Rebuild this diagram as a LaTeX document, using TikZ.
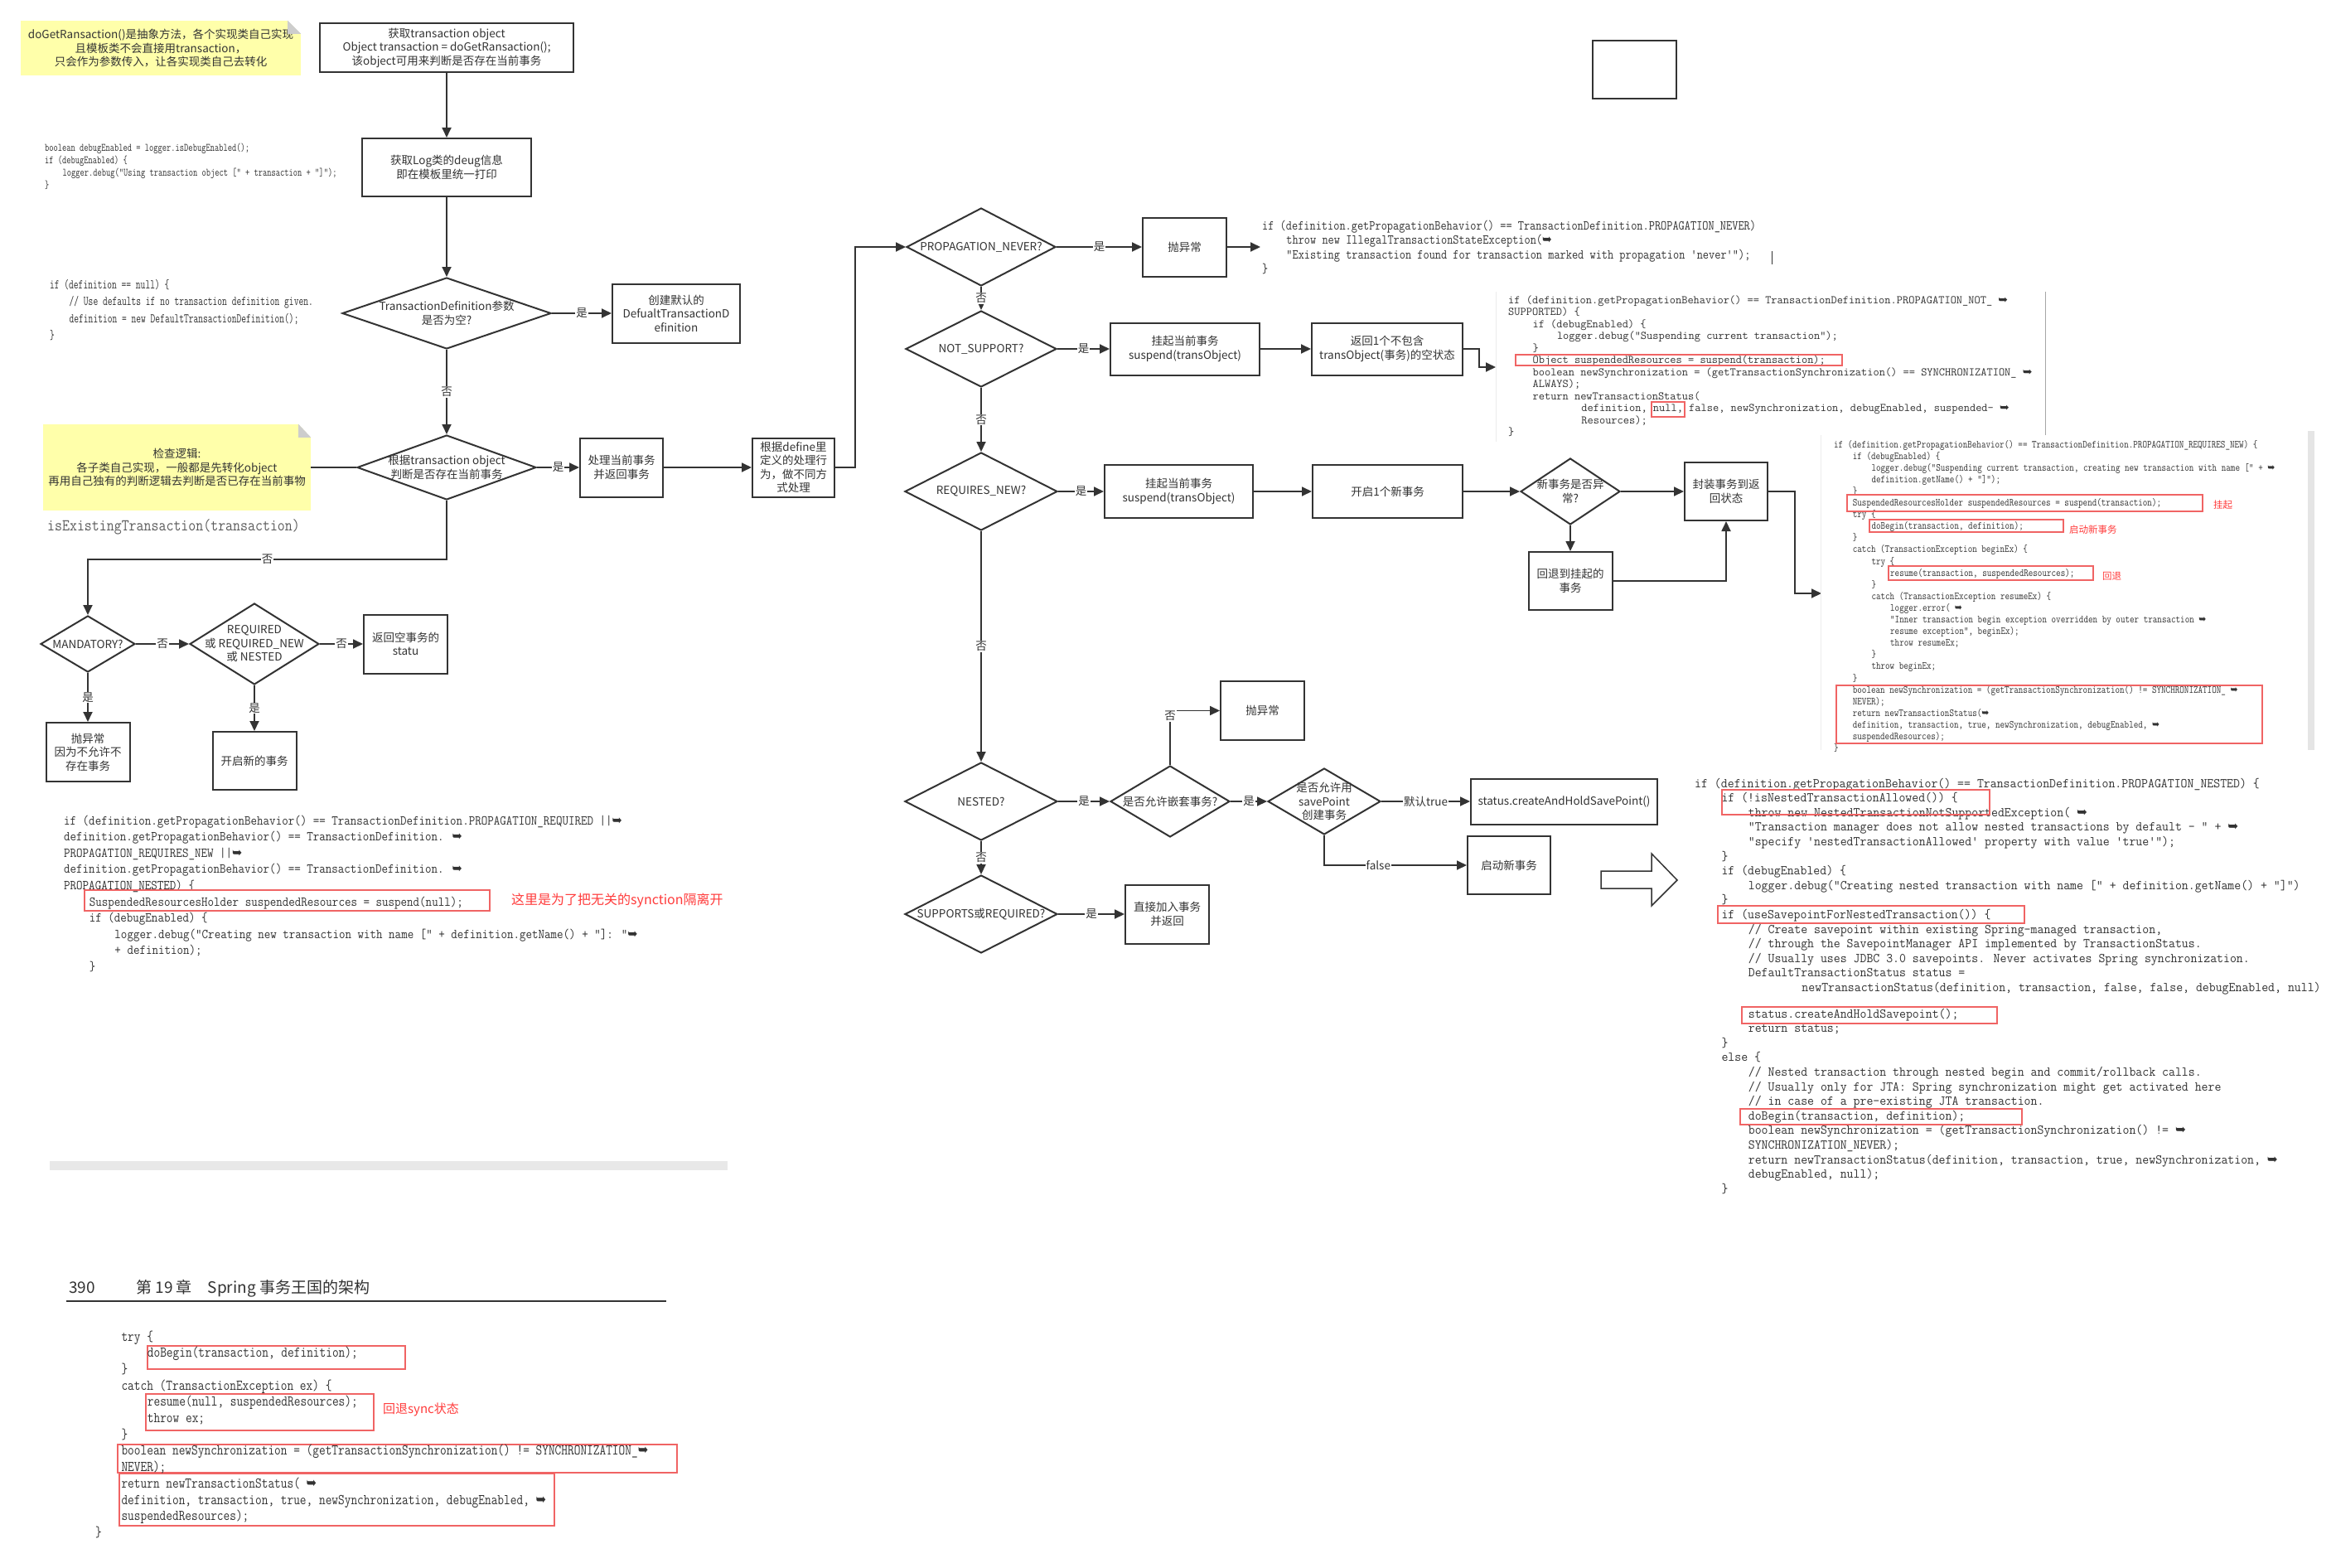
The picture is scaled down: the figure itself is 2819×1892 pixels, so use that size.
\documentclass[tikz,border=0pt]{standalone}
\usepackage{fontspec}
\setmainfont{Noto Sans CJK SC}
\newfontfamily\symfont{DejaVu Sans}
\usepackage{xcolor}
\definecolor{ink}{RGB}{51,51,51}
\definecolor{codeink}{RGB}{50,50,50}
\definecolor{notey}{RGB}{255,255,170}
\definecolor{notefold}{RGB}{205,205,205}
\definecolor{codered}{RGB}{240,100,100}
\definecolor{markred}{RGB}{255,60,60}
\usetikzlibrary{arrows.meta, positioning, shapes.geometric}

\newcommand\flowfont{\fontsize{13.5}{16.5}\selectfont}
\newcommand\ind[1]{\hspace*{#1\dimexpr.525em\relax}}
\newcommand\nxt{{\symfont ➥}}

\tikzset{
  box/.style={draw=ink, line width=2pt, fill=white, align=center, font=\flowfont, text=ink, inner sep=2pt},
  dia/.style={diamond, draw=ink, line width=2pt, fill=white, inner sep=0pt},
  dtxt/.style={align=center, font=\flowfont, text=ink},
  conn/.style={draw=ink, line width=1.8pt},
  arr/.style={conn, -{Triangle[length=12pt,width=11pt]}},
  lbl/.style={fill=white, inner sep=1pt, font=\flowfont, text=ink},
  note/.style={fill=notey, align=center, font=\flowfont, text=ink, inner sep=0pt},
  code/.style={anchor=base west, align=left, inner sep=0pt, text=codeink},
  redbox/.style={draw=codered, line width=1.2pt},
  redtxt/.style={anchor=west, inner sep=0pt, text=markred}
}

\begin{document}
\begin{tikzpicture}[x=1pt, y=-1pt]
\fill[white] (0,0) rectangle (2819,1892);
\useasboundingbox (0,0) rectangle (2819,1892);

% === Notes ===
\node[note, minimum width=338pt, minimum height=66pt] (abstractnote) at (194,58)
     {doGetRansaction()是抽象方法，各个实现类自己实现\\且模板类不会直接用transaction，\\只会作为参数传入，让各实现类自己去转化};
\fill[white] ([xshift=-16pt]abstractnote.north east) -- (abstractnote.north east) -- ([yshift=-16pt]abstractnote.north east) -- cycle;
\fill[notefold] ([xshift=-16pt]abstractnote.north east) -- ([xshift=-16pt,yshift=-16pt]abstractnote.north east) -- ([yshift=-16pt]abstractnote.north east) -- cycle;

\node[note, minimum width=323pt, minimum height=104pt] (checknote) at (213.5,564)
     {检查逻辑:\\各子类自己实现，一般都是先转化object\\再用自己独有的判断逻辑去判断是否已存在当前事物};
\fill[white] ([xshift=-15pt]checknote.north east) -- (checknote.north east) -- ([yshift=-16pt]checknote.north east) -- cycle;
\fill[notefold] ([xshift=-15pt]checknote.north east) -- ([xshift=-15pt,yshift=-16pt]checknote.north east) -- ([yshift=-16pt]checknote.north east) -- cycle;

% === Left column: getTransaction ===
\node[box, minimum width=306pt, minimum height=59pt] (getobj) at (539,57.5)
     {获取transaction object\\Object transaction = doGetRansaction();\\该object可用来判断是否存在当前事务};
\node[box, minimum width=204pt, minimum height=70pt] (logbox) at (539,202)
     {获取Log类的deug信息\\即在模板里统一打印};
\node[dia, minimum width=252pt, minimum height=86pt,
      label={[dtxt]center:{TransactionDefinition参数\\是否为空?}}] (nullq) at (539,378) {};
\node[box, minimum width=154pt, minimum height=71pt] (defbox) at (816,378)
     {创建默认的\\DefualtTransactionD\\efinition};
\node[dia, minimum width=216pt, minimum height=78pt,
      label={[dtxt]center:{根据transaction object\\判断是否存在当前事务}}] (existq) at (539,564) {};
\node[box, minimum width=100pt, minimum height=71pt] (curbox) at (750,564)
     {处理当前事务\\并返回事务};
\node[box, minimum width=99pt, minimum height=71pt] (definebox) at (957.5,564)
     {根据define里\\定义的处理行\\为，做不同方\\式处理};

\node[dia, minimum width=114pt, minimum height=68pt,
      label={[dtxt]center:{MANDATORY?}}] (mandq) at (106,777) {};
\node[dia, minimum width=156pt, minimum height=98pt,
      label={[dtxt]center:{REQUIRED\\或 REQUIRED\_NEW\\或 NESTED}}] (reqq) at (307,777) {};
\node[box, minimum width=101pt, minimum height=71pt] (statubox) at (489.5,777)
     {返回空事务的\\statu};
\node[box, minimum width=101pt, minimum height=71pt] (throwone) at (106,907.5)
     {抛异常\\因为不允许不\\存在事务};
\node[box, minimum width=101pt, minimum height=70pt] (newtxbox) at (307,918)
     {开启新的事务};

% Connectors, left column
\draw[arr] (getobj) -- (logbox);
\draw[arr] (logbox) -- (nullq);
\draw[arr] (nullq) -- node[lbl] {是} (defbox);
\draw[arr] (nullq) -- node[lbl] {否} (existq);
\draw[conn] (checknote) -- (existq);
\draw[arr] (existq) -- node[lbl] {是} (curbox);
\draw[arr] (curbox) -- (definebox);
\draw[arr] (existq.south) -- ++(0,71) -| node[lbl, pos=0.25] {否} (mandq.north);
\draw[arr] (mandq) -- node[lbl] {否} (reqq);
\draw[arr] (reqq) -- node[lbl] {否} (statubox);
\draw[arr] (mandq) -- node[lbl] {是} (throwone);
\draw[arr] (reqq) -- node[lbl] {是} (newtxbox);

% === Middle column: propagation behaviours ===
\node[box, minimum width=101pt, minimum height=70pt] (blankbox) at (1972.5,84) {};

\node[dia, minimum width=180pt, minimum height=94pt,
      label={[dtxt]center:{PROPAGATION\_NEVER?}}] (neverq) at (1184,298) {};
\node[box, minimum width=101pt, minimum height=71pt] (throwtwo) at (1429.5,298) {抛异常};
\coordinate (neverend) at (1521,298);

\node[dia, minimum width=182pt, minimum height=92pt,
      label={[dtxt]center:{NOT\_SUPPORT?}}] (notsupq) at (1184,421) {};
\node[box, minimum width=180pt, minimum height=63pt] (suspone) at (1430,421)
     {挂起当前事务\\suspend(transObject)};
\node[box, minimum width=182pt, minimum height=63pt] (emptybox) at (1674,421)
     {返回1个不包含\\transObject(事务)的空状态};
\coordinate (notsupend) at (1805,443);

\node[dia, minimum width=184pt, minimum height=94pt,
      label={[dtxt]center:{REQUIRES\_NEW?}}] (reqnewq) at (1184,593) {};
\node[box, minimum width=179pt, minimum height=64pt] (susptwo) at (1422.5,593)
     {挂起当前事务\\suspend(transObject)};
\node[box, minimum width=181pt, minimum height=64pt] (openbox) at (1674.5,593) {开启1个新事务};
\node[dia, minimum width=120pt, minimum height=80pt,
      label={[dtxt]center:{新事务是否异\\常?}}] (errq) at (1895,593) {};
\node[box, minimum width=100pt, minimum height=70pt] (wrapbox) at (2083,593)
     {封装事务到返\\回状态};
\node[box, minimum width=101pt, minimum height=70pt] (backbox) at (1895,701)
     {回退到挂起的\\事务};
\coordinate (reqnewend) at (2198,716);

\node[dia, minimum width=184pt, minimum height=94pt,
      label={[dtxt]center:{NESTED?}}] (nestedq) at (1184,967) {};
\node[dia, minimum width=144pt, minimum height=86pt,
      label={[dtxt]center:{是否允许嵌套事务?}}] (allowq) at (1412,967) {};
\node[box, minimum width=101pt, minimum height=71pt] (throwthree) at (1523.5,857.5) {抛异常};
\node[dia, minimum width=136pt, minimum height=80pt,
      label={[dtxt]center:{是否允许用\\savePoint\\创建事务}}] (saveq) at (1598,967) {};
\node[box, minimum width=225pt, minimum height=55pt] (holdbox) at (1887.5,967)
     {status.createAndHoldSavePoint()};
\node[box, minimum width=100pt, minimum height=70pt] (startbox) at (1821,1044) {启动新事务};

\node[dia, minimum width=184pt, minimum height=94pt,
      label={[dtxt]center:{SUPPORTS或REQUIRED?}}] (supq) at (1184,1103) {};
\node[box, minimum width=101pt, minimum height=71pt] (joinbox) at (1408.5,1103)
     {直接加入事务\\并返回};

% Connectors, middle column
\draw[arr] (definebox.east) -- ++(24,0) |- (neverq.west);
\draw[arr] (neverq) -- node[lbl] {是} (throwtwo);
\draw[arr] (throwtwo) -- (neverend);
\draw[arr] (neverq) -- node[lbl] {否} (notsupq);
\draw[arr] (notsupq) -- node[lbl] {是} (suspone);
\draw[arr] (suspone) -- (emptybox);
\draw[arr] (emptybox.east) -- ++(19,0) |- (notsupend);
\draw[arr] (notsupq) -- node[lbl] {否} (reqnewq);
\draw[arr] (reqnewq) -- node[lbl] {是} (susptwo);
\draw[arr] (susptwo) -- (openbox);
\draw[arr] (openbox) -- (errq);
\draw[arr] (errq) -- (wrapbox);
\draw[arr] (errq) -- (backbox);
\draw[arr] (backbox.east) -| (wrapbox.south);
\draw[arr] (wrapbox.east) -- ++(32,0) |- (reqnewend);
\draw[arr] (reqnewq) -- node[lbl] {否} (nestedq);
\draw[arr] (nestedq) -- node[lbl] {是} (allowq);
\draw[arr] (allowq.north) |- node[lbl, pos=0.45] {否} (throwthree.west);
\draw[arr] (allowq) -- node[lbl] {是} (saveq);
\draw[arr] (saveq) -- node[lbl] {默认true} (holdbox);
\draw[arr] (saveq.south) |- node[lbl, pos=0.69] {false} (startbox.west);
\draw[arr] (nestedq) -- node[lbl] {否} (supq);
\draw[arr] (supq) -- node[lbl] {是} (joinbox);

% Hollow arrow towards the nested code
\draw[ink, line width=1.5pt, fill=white] (1932,1051) -- (1993,1051) -- (1993,1030) -- (2024,1062)
     -- (1993,1093) -- (1993,1072) -- (1932,1072) -- cycle;

% === Code excerpts (placed by the baseline of their last line) ===
\node[code, xscale=0.75, font=\fontsize{13.6}{14.7}\selectfont\ttfamily] (debugcode) at (54,227) {%
boolean debugEnabled = logger.isDebugEnabled();\\
if (debugEnabled) \{\\
\ind{4}logger.debug("Using transaction object [" + transaction + "]");\\
\}};

\node[code, xscale=0.70, font=\fontsize{16}{20.5}\selectfont\ttfamily] (nullcode) at (60,409.5) {%
if (definition == null) \{\\
\ind{4}// Use defaults if no transaction definition given.\\
\ind{4}definition = new DefaultTransactionDefinition();\\
\}};

\node[code, xscale=0.87, font=\fontsize{20}{22}\selectfont\ttfamily, text=ink!80] (existcode) at (57,640)
     {isExistingTransaction(transaction)};

\node[code, xscale=0.89, font=\fontsize{16.4}{19.6}\selectfont\ttfamily] (reqcode) at (77,1171.4) {%
if (definition.getPropagationBehavior() == TransactionDefinition.PROPAGATION\_REQUIRED ||\nxt\\
definition.getPropagationBehavior() == TransactionDefinition. \nxt\\
PROPAGATION\_REQUIRES\_NEW ||\nxt\\
definition.getPropagationBehavior() == TransactionDefinition. \nxt\\
PROPAGATION\_NESTED) \{\\
\ind{4}SuspendedResourcesHolder suspendedResources = suspend(null);\\
\ind{4}if (debugEnabled) \{\\
\ind{8}logger.debug("Creating new transaction with name [" + definition.getName() + "]: "\nxt\\
\ind{8}+ definition);\\
\ind{4}\}};
\node[redtxt, font=\fontsize{16}{18}\selectfont] (isolatenote) at (617,1087) {这里是为了把无关的synction隔离开};

\node[code, xscale=0.85, font=\fontsize{16.4}{17.5}\selectfont\ttfamily] (nevercode) at (1523,329.5) {%
if (definition.getPropagationBehavior() == TransactionDefinition.PROPAGATION\_NEVER)\\
\ind{4}throw new IllegalTransactionStateException(\nxt\\
\ind{4}"Existing transaction found for transaction marked with propagation 'never'");\\
\}};
\draw[codeink, line width=1pt] (2138,303) -- (2138,319);

\node[code, font=\fontsize{14}{14.5}\selectfont\ttfamily] (notsupcode) at (1820,525.5) {%
if (definition.getPropagationBehavior() == TransactionDefinition.PROPAGATION\_NOT\_ \nxt\\
SUPPORTED) \{\\
\ind{4}if (debugEnabled) \{\\
\ind{8}logger.debug("Suspending current transaction");\\
\ind{4}\}\\
\ind{4}Object suspendedResources = suspend(transaction);\\
\ind{4}boolean newSynchronization = (getTransactionSynchronization() == SYNCHRONIZATION\_ \nxt\\
\ind{4}ALWAYS);\\
\ind{4}return newTransactionStatus(\\
\ind{12}definition, null, false, newSynchronization, debugEnabled, suspended- \nxt\\
\ind{12}Resources);\\
\}};

\node[code, xscale=0.83, font=\fontsize{13}{14.1}\selectfont\ttfamily] (reqnewcode) at (2213,906.6) {%
if (definition.getPropagationBehavior() == TransactionDefinition.PROPAGATION\_REQUIRES\_NEW) \{\\
\ind{4}if (debugEnabled) \{\\
\ind{8}logger.debug("Suspending current transaction, creating new transaction with name [" + \nxt\\
\ind{8}definition.getName() + "]");\\
\ind{4}\}\\
\ind{4}SuspendedResourcesHolder suspendedResources = suspend(transaction);\\
\ind{4}try \{\\
\ind{8}doBegin(transaction, definition);\\
\ind{4}\}\\
\ind{4}catch (TransactionException beginEx) \{\\
\ind{8}try \{\\
\ind{12}resume(transaction, suspendedResources);\\
\ind{8}\}\\
\ind{8}catch (TransactionException resumeEx) \{\\
\ind{12}logger.error( \nxt\\
\ind{12}"Inner transaction begin exception overridden by outer transaction \nxt\\
\ind{12}resume exception", beginEx);\\
\ind{12}throw resumeEx;\\
\ind{8}\}\\
\ind{8}throw beginEx;\\
\ind{4}\}\\
\ind{4}boolean newSynchronization = (getTransactionSynchronization() != SYNCHRONIZATION\_ \nxt\\
\ind{4}NEVER);\\
\ind{4}return newTransactionStatus(\nxt\\
\ind{4}definition, transaction, true, newSynchronization, debugEnabled, \nxt\\
\ind{4}suspendedResources);\\
\}};
\node[redtxt, font=\fontsize{11.5}{13}\selectfont] (suspendmark) at (2671,609) {挂起};
\node[redtxt, font=\fontsize{11.5}{13}\selectfont] (beginmark) at (2497,639) {启动新事务};
\node[redtxt, font=\fontsize{11.5}{13}\selectfont] (resumemark) at (2537,695) {回退};

\node[code, xscale=0.95, font=\fontsize{16.2}{17.6}\selectfont\ttfamily] (nestedcode) at (2045,1439.2) {%
if (definition.getPropagationBehavior() == TransactionDefinition.PROPAGATION\_NESTED) \{\\
\ind{4}if (!isNestedTransactionAllowed()) \{\\
\ind{8}throw new NestedTransactionNotSupportedException( \nxt\\
\ind{8}"Transaction manager does not allow nested transactions by default - " + \nxt\\
\ind{8}"specify 'nestedTransactionAllowed' property with value 'true'");\\
\ind{4}\}\\
\ind{4}if (debugEnabled) \{\\
\ind{8}logger.debug("Creating nested transaction with name [" + definition.getName() + "]")\\
\ind{4}\}\\
\ind{4}if (useSavepointForNestedTransaction()) \{\\
\ind{8}// Create savepoint within existing Spring-managed transaction,\\
\ind{8}// through the SavepointManager API implemented by TransactionStatus.\\
\ind{8}// Usually uses JDBC 3.0 savepoints. Never activates Spring synchronization.\\
\ind{8}DefaultTransactionStatus status =\\
\ind{16}newTransactionStatus(definition, transaction, false, false, debugEnabled, null)\\[14pt]
\ind{8}status.createAndHoldSavepoint();\\
\ind{8}return status;\\
\ind{4}\}\\
\ind{4}else \{\\
\ind{8}// Nested transaction through nested begin and commit/rollback calls.\\
\ind{8}// Usually only for JTA: Spring synchronization might get activated here\\
\ind{8}// in case of a pre-existing JTA transaction.\\
\ind{8}doBegin(transaction, definition);\\
\ind{8}boolean newSynchronization = (getTransactionSynchronization() != \nxt\\
\ind{8}SYNCHRONIZATION\_NEVER);\\
\ind{8}return newTransactionStatus(definition, transaction, true, newSynchronization, \nxt\\
\ind{8}debugEnabled, null);\\
\ind{4}\}};

% Red highlights in the code
\foreach \xa/\ya/\xb/\yb in {102/1074/591/1099, 1829/428/2223/441, 1993/485/2033/503,
    2229/597/2658/617, 2256/627/2490/642, 2279/683/2526/700, 2216/827/2730/897,
    2078/953/2401/983, 2073/1093/2443/1114, 2102/1215/2410/1235, 2100/1338/2440/1357,
    178/1624/489/1652, 176/1682/451/1726, 142/1743/817/1777, 144/1778/669/1841}
  \draw[redbox] (\xa,\ya) rectangle (\xb,\yb);

% Scan edges
\draw[gray!15, line width=1pt] (1805,352) -- (1805,533);
\draw[gray!15, line width=1pt] (2197,525) -- (2197,905);
\draw[gray!70, line width=1pt] (2468,352) -- (2468,525);
\fill[gray!20] (2785,520) rectangle (2793,905);

% === Book page excerpt ===
\fill[gray!18] (60,1401) rectangle (878,1412);
\node[anchor=west, inner sep=0pt, font=\fontsize{19}{21}\selectfont, text=codeink] (pagehead) at (83,1555)
     {390\hspace{2.6em}第 19 章\hspace{1em}Spring 事务王国的架构};
\draw[ink, line width=1.8pt] (80,1570) -- (804,1570);

\node[code, xscale=0.83, font=\fontsize{18}{19.7}\selectfont\ttfamily] (bookcode) at (115,1854.4) {%
\ind{4}try \{\\
\ind{8}doBegin(transaction, definition);\\
\ind{4}\}\\
\ind{4}catch (TransactionException ex) \{\\
\ind{8}resume(null, suspendedResources);\\
\ind{8}throw ex;\\
\ind{4}\}\\
\ind{4}boolean newSynchronization = (getTransactionSynchronization() != SYNCHRONIZATION\_\nxt\\
\ind{4}NEVER);\\
\ind{4}return newTransactionStatus( \nxt\\
\ind{4}definition, transaction, true, newSynchronization, debugEnabled, \nxt\\
\ind{4}suspendedResources);\\
\}};
\node[redtxt, font=\fontsize{15}{17}\selectfont] (syncmark) at (462,1701) {回退sync状态};

\end{tikzpicture}
\end{document}
